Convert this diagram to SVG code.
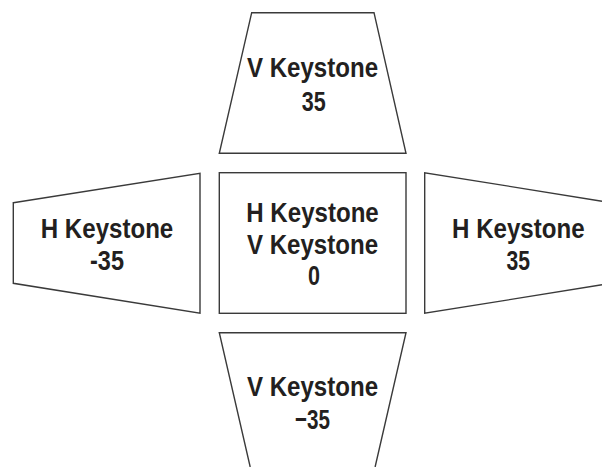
<svg xmlns="http://www.w3.org/2000/svg" width="602" height="467" viewBox="0 0 602 467">
<style>
.shape{fill:#fff;stroke:#3a3a3a;stroke-width:1.4;stroke-linejoin:miter}
.t{font-family:"Liberation Sans",Arial,sans-serif;font-weight:bold;font-size:28.5px;fill:#231f20;text-anchor:middle}
</style>
<rect width="602" height="467" fill="#fff"/>
<g id="top">
<polygon class="shape" points="251.7,12.7 374,12.7 406,153.3 219.3,153.3"/>
<text class="t" transform="matrix(0.845,0,0,1,312.5,0)" x="0" y="77.3">V Keystone</text>
<text class="t" transform="matrix(0.845,0,0,1,313.8,0)" x="0" y="110.7" textLength="28.4" lengthAdjust="spacingAndGlyphs">35</text>
</g>
<g id="left">
<polygon class="shape" points="13.3,202.7 200,173.3 200,313.3 13.3,283.3"/>
<text class="t" transform="matrix(0.845,0,0,1,107,0)" x="0" y="238.3">H Keystone</text>
<text class="t" transform="matrix(0.845,0,0,1,107,0)" x="0" y="269.8" textLength="40.2" lengthAdjust="spacingAndGlyphs">-35</text>
</g>
<g id="center">
<rect class="shape" x="219.3" y="172.7" width="186.7" height="140.6"/>
<text class="t" transform="matrix(0.845,0,0,1,312.5,0)" x="0" y="221.7">H Keystone</text>
<text class="t" transform="matrix(0.845,0,0,1,312.5,0)" x="0" y="254">V Keystone</text>
<text class="t" transform="matrix(0.845,0,0,1,314,0)" x="0" y="285" textLength="14.2" lengthAdjust="spacingAndGlyphs">0</text>
</g>
<g id="right">
<path class="shape" d="M602,201.2 L424.7,172.7 L424.7,313.3 L602,284.8"/>
<text class="t" transform="matrix(0.845,0,0,1,518.3,0)" x="0" y="237.7">H Keystone</text>
<text class="t" transform="matrix(0.845,0,0,1,518.3,0)" x="0" y="270" textLength="27.8" lengthAdjust="spacingAndGlyphs">35</text>
</g>
<g id="bottom">
<path class="shape" d="M250.2,467 L219.3,332.7 L406,332.7 L375.1,467"/>
<text class="t" transform="matrix(0.845,0,0,1,312.5,0)" x="0" y="396">V Keystone</text>
<text class="t" transform="matrix(0.845,0,0,1,312.5,0)" x="0" y="429.3" textLength="41.4" lengthAdjust="spacingAndGlyphs">−35</text>
</g>
<g id="connectors"/>
</svg>
